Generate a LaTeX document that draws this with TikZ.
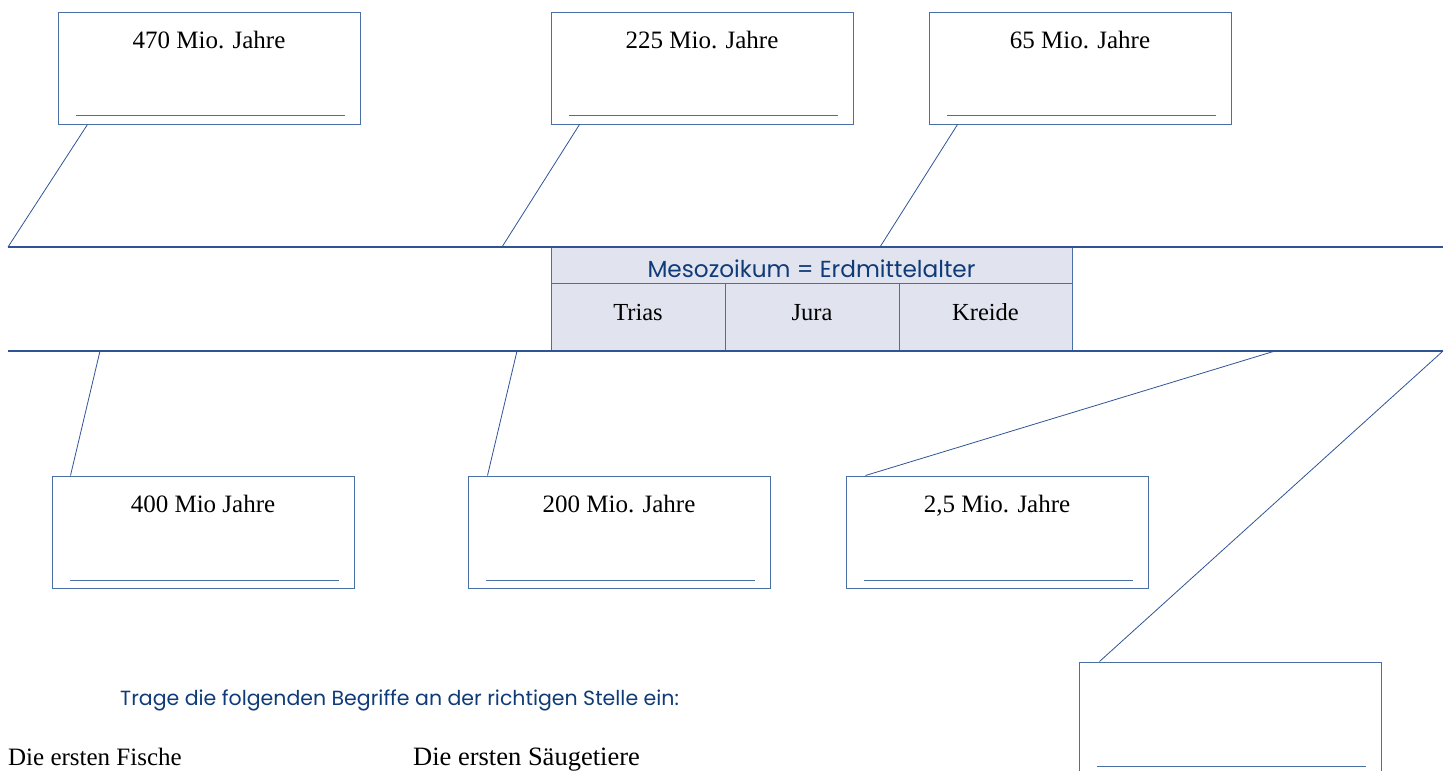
\documentclass[tikz,border=0pt]{standalone}
\usepackage{fontspec}
\setmainfont{Liberation Serif}
\newfontfamily\pop{Poppins}
\definecolor{boxc}{HTML}{4A6FA5}
\definecolor{linec}{HTML}{2F5496}
\definecolor{txtb}{HTML}{0F3B78}
\definecolor{cellf}{HTML}{E1E4EE}
\tikzset{
  box/.style={draw=boxc, line width=1pt, minimum width=302pt, minimum height=112pt, inner sep=0pt},
  wline/.style={draw=boxc, line width=0.8pt},
  conn/.style={draw=linec, line width=0.8pt},
  thick line/.style={draw=linec, line width=2.4pt},
  yr/.style={anchor=base, font=\fontsize{25}{28}\selectfont, inner sep=0pt},
  cell/.style={draw=boxc, fill=cellf, line width=1pt, inner sep=0pt},
  celltxt/.style={anchor=base, font=\fontsize{24.5}{28}\selectfont, inner sep=0pt},
  poptxt/.style={font=\pop\fontsize{20.5}{24}\selectfont, text=txtb, inner sep=0pt},
}
\begin{document}
\begin{tikzpicture}[x=1pt,y=-1pt]
\useasboundingbox (0,0) rectangle (1451,771);
\clip (0,0) rectangle (1451,771);
% main lines
\coordinate (L1a) at (8,247); \coordinate (L1b) at (1443,247);
\coordinate (L2a) at (8,351); \coordinate (L2b) at (1443,351);
% table
\node[cell, minimum width=521pt, minimum height=36pt] (head) at (811.5,265) {};
\node[cell, minimum width=174pt, minimum height=68pt] (c1) at (638,317) {};
\node[cell, minimum width=174pt, minimum height=68pt] (c2) at (812,317) {};
\node[cell, minimum width=173pt, minimum height=68pt] (c3) at (985.5,317) {};
\node[poptxt, anchor=base, font=\pop\fontsize{23.2}{26}\selectfont] (headt) at (811.5,277) {Mesozoikum = Erdmittelalter};
\node[celltxt] (t1) at (638,320) {Trias};
\node[celltxt] (t2) at (812,320) {Jura};
\node[celltxt] (t3) at (985.5,320) {Kreide};
\draw[thick line] (L1a) -- (L1b);
\draw[thick line] (L2a) -- (L2b);
% top boxes
\node[box] (b1) at (209,68) {};
\node[box] (b2) at (702,68) {};
\node[box] (b3) at (1080,68) {};
\node[yr] (b1t) at (209,48) {470 Mio. Jahre};
\node[yr] (b2t) at (702,48) {225 Mio. Jahre};
\node[yr] (b3t) at (1080,48) {65 Mio. Jahre};
\foreach \n in {b1,b2,b3}{
  \draw[wline] ([xshift=18pt,yshift=9pt]\n.south west) -- ([xshift=-16pt,yshift=9pt]\n.south east);
}
% bottom boxes
\node[box] (b4) at (203,532) {};
\node[box] (b5) at (619,532) {};
\node[box] (b6) at (997,532) {};
\node[box] (b7) at (1230,718) {};
\node[yr] (b4t) at (203,512) {400 Mio Jahre};
\node[yr] (b5t) at (619,512) {200 Mio. Jahre};
\node[yr] (b6t) at (997,512) {2,5 Mio. Jahre};
\foreach \n in {b4,b5,b6,b7}{
  \draw[wline] ([xshift=18pt,yshift=8pt]\n.south west) -- ([xshift=-16pt,yshift=8pt]\n.south east);
}
% connectors top
\coordinate (p1) at (8,247);
\coordinate (p2) at (502,247);
\coordinate (p3) at (880,247);
\draw[conn] ([xshift=30pt]b1.south west) -- (p1);
\draw[conn] ([xshift=29pt]b2.south west) -- (p2);
\draw[conn] ([xshift=29pt]b3.south west) -- (p3);
% connectors bottom
\coordinate (q1) at (100,351);
\coordinate (q2) at (517,351);
\coordinate (q3) at (1275,351);
\coordinate (q4) at (1443,351);
\draw[conn] (q1) -- ([xshift=19pt]b4.north west);
\draw[conn] (q2) -- ([xshift=20pt]b5.north west);
\draw[conn] (q3) -- ([xshift=20pt]b6.north west);
\draw[conn] (q4) -- ([xshift=21pt]b7.north west);
% instructions
\node[poptxt, anchor=base west] (instr) at (120,705) {Trage die folgenden Begriffe an der richtigen Stelle ein:};
\node[yr, anchor=base west] (w1) at (8,765) {Die ersten Fische};
\node[yr, anchor=base west, font=\fontsize{26.5}{28}\selectfont] (w2) at (413,765) {Die ersten Säugetiere};
\end{tikzpicture}
\end{document}
